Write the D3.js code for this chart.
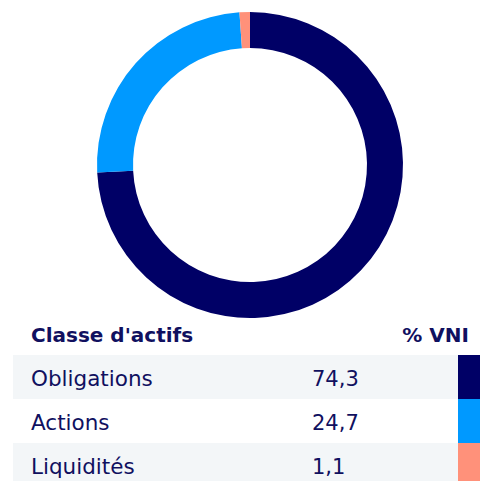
<!DOCTYPE html>
<html>
<head>
<meta charset="utf-8">
<script src="https://cdn.jsdelivr.net/npm/d3@7"></script>
<style>
  html, body { margin: 0; padding: 0; background: #fff; }
  svg { display: block; }
</style>
</head>
<body>
<div id="chart"></div>
<script>
const categories = ["Obligations", "Actions", "Liquidités"];
const values = [74.3, 24.7, 1.1];
const labels = ["74,3", "24,7", "1,1"];
const colors = ["#000066", "#0099ff", "#ff917a"];
const headers = ["Classe d'actifs", "% VNI"];

const width = 480;
const height = 481;
const textColor = "#10105f";
const font = "'DejaVu Sans', sans-serif";

const svg = d3.select("#chart")
	.append("svg")
	.attr("width", width)
	.attr("height", height)
	.attr("viewBox", [0, 0, width, height]);

// donut
const pie = d3.pie()
	.sort(null)
	.value(d => d);
const arc = d3.arc()
	.innerRadius(117)
	.outerRadius(153);

const donut = svg.append("g")
	.attr("transform", "translate(250,165)");

donut.selectAll("path")
	.data(pie(values))
	.join("path")
	.attr("d", arc)
	.attr("fill", (d, i) => colors[i]);

// table
const rowY = d3.scaleBand()
	.domain(categories)
	.range([355, 487])
	.padding(0);

const header = svg.append("g")
	.attr("font-family", font)
	.attr("font-size", 20)
	.attr("font-weight", "bold")
	.attr("fill", textColor);

header.append("text")
	.attr("x", 31)
	.attr("y", 342)
	.text(headers[0]);

header.append("text")
	.attr("x", 469)
	.attr("y", 342)
	.attr("text-anchor", "end")
	.text(headers[1]);

const rows = svg.append("g")
	.selectAll("g")
	.data(categories)
	.join("g")
	.attr("transform", d => `translate(0,${rowY(d)})`);

rows.append("rect")
	.attr("x", 13)
	.attr("width", width - 13)
	.attr("height", rowY.bandwidth())
	.attr("fill", (d, i) => i % 2 === 0 ? "#f3f6f8" : "#fff");

rows.append("rect")
	.attr("x", 458)
	.attr("width", width - 458)
	.attr("height", rowY.bandwidth())
	.attr("fill", (d, i) => colors[i]);

rows.append("text")
	.attr("x", 31)
	.attr("y", 31)
	.attr("font-family", font)
	.attr("font-size", 21.5)
	.attr("fill", textColor)
	.text(d => d);

rows.append("text")
	.attr("x", 312)
	.attr("y", 31)
	.attr("font-family", font)
	.attr("font-size", 21)
	.attr("fill", textColor)
	.text((d, i) => labels[i]);
</script>
</body>
</html>
